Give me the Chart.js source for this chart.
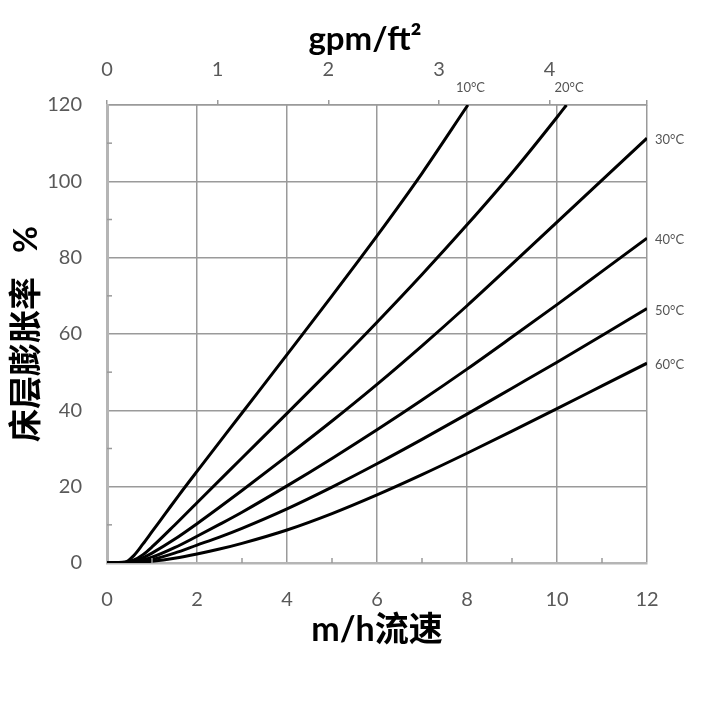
<!DOCTYPE html>
<html>
<head>
<meta charset="utf-8">
<script src="https://cdn.jsdelivr.net/npm/chart.js@4"></script>
<style>
  html, body { margin: 0; padding: 0; background: #ffffff; }
  #wrap { width: 720px; height: 720px; position: relative; }
</style>
</head>
<body>
<div id="wrap"><canvas id="c" width="720" height="720"></canvas></div>
<script>
// ---- data ----
const seriesLabels = ['10°C', '20°C', '30°C', '40°C', '50°C', '60°C'];

const x10 = [0, 0.4, 0.6, 0.8, 1.0, 1.3, 1.6, 2, 3, 4, 5, 6, 7, 8.02];
const y10 = [0, 0.2, 2.0, 5.0, 8.2, 13.0, 17.8, 24.0, 39.3, 54.6, 70.0, 85.7, 102.1, 120];

const x20 = [0, 0.4, 0.6, 0.8, 1.0, 1.5, 2, 3, 4, 5, 6, 7, 8, 9, 10, 10.21];
const y20 = [0, 0.1, 0.8, 2.2, 4.2, 9.9, 15.8, 27.5, 39.2, 51.0, 63.1, 75.6, 88.6, 102.2, 116.8, 120];

const xStd = [0, 0.5, 0.8, 1, 1.5, 2, 2.5, 3, 4, 5, 6, 7, 8, 9, 10, 11, 12];
const y30 = [0, 0.3, 1.4, 2.6, 6.2, 10.3, 14.6, 19.0, 28.0, 37.2, 46.8, 56.9, 67.4, 78.3, 89.3, 100.3, 111.3];
const y40 = [0, 0.2, 0.8, 1.5, 4.0, 7.0, 10.1, 13.3, 20.2, 27.4, 34.9, 42.7, 50.8, 59.2, 67.7, 76.4, 85.1];
const y50 = [0, 0.1, 0.45, 0.9, 2.6, 4.7, 6.8, 9.1, 14.2, 19.9, 26.0, 32.4, 39.0, 45.8, 52.6, 59.6, 66.7];
const y60 = [0, 0.05, 0.25, 0.45, 1.25, 2.35, 3.65, 5.15, 8.65, 12.95, 17.85, 23.15, 28.75, 34.55, 40.45, 46.4, 52.35];

const xTickLabels = ['0', '2', '4', '6', '8', '10', '12'];
const yTickLabels = ['0', '20', '40', '60', '80', '100', '120'];
const gpmTickLabels = ['0', '1', '2', '3', '4'];
const gpmMax = 4.88; // 12 m/h expressed in gpm/ft²

const xsAll = [x10, x20, xStd, xStd, xStd, xStd];
const ysAll = [y10, y20, y30, y40, y50, y60];

const datasets = seriesLabels.map((lab, i) => ({
  label: lab,
  data: xsAll[i].map((x, j) => ({ x: x, y: ysAll[i][j] })),
  borderColor: '#000000',
  borderWidth: 3,
  pointRadius: 0,
  showLine: true,
  fill: false,
  cubicInterpolationMode: 'monotone'
}));

const tickColor = '#595959';
const gridColor = '#9a9a9a';

// minor tick marks + series labels
const extrasPlugin = {
  id: 'extras',
  afterDatasetsDraw(chart) {
    const ctx = chart.ctx;
    const xs = chart.scales.x, ys = chart.scales.y;
    const area = chart.chartArea;
    ctx.save();
    ctx.strokeStyle = gridColor;
    ctx.lineWidth = 1.5;
    for (let v = 10; v < 120; v += 20) {
      const py = ys.getPixelForValue(v);
      ctx.beginPath(); ctx.moveTo(area.left, py); ctx.lineTo(area.left + 5, py); ctx.stroke();
    }
    for (let v = 1; v < 12; v += 2) {
      const px = xs.getPixelForValue(v);
      ctx.beginPath(); ctx.moveTo(px, area.bottom); ctx.lineTo(px, area.bottom - 5); ctx.stroke();
    }
    // series labels at line ends
    ctx.fillStyle = '#555555';
    ctx.font = '13px Lato, "Liberation Sans", sans-serif';
    ctx.textAlign = 'left';
    ctx.textBaseline = 'middle';
    chart.data.datasets.forEach((ds) => {
      const last = ds.data[ds.data.length - 1];
      const px = xs.getPixelForValue(last.x);
      const py = ys.getPixelForValue(last.y);
      if (last.y >= 119) {
        ctx.fillText(ds.label, px - 12, py - 17);
      } else {
        ctx.fillText(ds.label, px + 8, py + 2);
      }
    });
    ctx.restore();
  }
};

const tickFont = { family: 'Lato, "Liberation Sans", sans-serif', size: 20 };
const titleFontFamily = 'Lato, "Noto Sans CJK SC", sans-serif';

new Chart(document.getElementById('c'), {
  type: 'scatter',
  data: { datasets: datasets },
  plugins: [extrasPlugin],
  options: {
    responsive: false,
    animation: false,
    devicePixelRatio: 1,
    layout: { padding: { left: 0, right: 73, top: 0, bottom: 0 } },
    plugins: { legend: { display: false }, tooltip: { enabled: false } },
    scales: {
      x: {
        type: 'linear', position: 'bottom', min: 0, max: 12,
        afterFit(s) { s.height = 157; },
        ticks: {
          stepSize: 1, padding: 25, color: tickColor, font: tickFont, maxRotation: 0,
          autoSkip: false,
          callback: (v) => (v % 2 === 0 ? xTickLabels[v / 2] : '')
        },
        grid: {
          drawTicks: false, lineWidth: 1.5,
          color: (c) => (c.tick && c.tick.value % 2 === 0 ? gridColor : 'rgba(0,0,0,0)')
        },
        border: { display: true, color: '#b5b5b5', width: 2.5 },
        title: {
          display: true, text: 'm/h流速', color: '#000000',
          font: { family: titleFontFamily, size: 34, weight: 'bold' },
          padding: { top: 0, bottom: 70 }
        }
      },
      x2: {
        type: 'linear', position: 'top', min: 0, max: gpmMax,
        afterFit(s) { s.height = 105; },
        ticks: {
          stepSize: 1, padding: 18, color: tickColor, font: tickFont, maxRotation: 0,
          autoSkip: false,
          callback: (v) => (Number.isInteger(v) && v <= 4 ? gpmTickLabels[v] : '')
        },
        grid: { drawOnChartArea: false, drawTicks: true, tickLength: 5, color: gridColor, lineWidth: 1.5 },
        border: { display: true, color: gridColor, width: 1.5 },
        title: {
          display: true, text: 'gpm/ft²   ', color: '#000000',
          font: { family: titleFontFamily, size: 33, weight: 'bold' },
          padding: { top: 20, bottom: 0 }
        }
      },
      y: {
        type: 'linear', position: 'left', min: 0, max: 120,
        afterFit(s) { s.width = 107; },
        ticks: {
          stepSize: 10, padding: 25, color: tickColor, font: tickFont, autoSkip: false,
          callback: (v) => (v % 20 === 0 ? yTickLabels[v / 20] : '')
        },
        grid: {
          drawTicks: false, lineWidth: 1.5,
          color: (c) => (c.tick && c.tick.value % 20 === 0 ? gridColor : 'rgba(0,0,0,0)')
        },
        border: { display: true, color: '#b5b5b5', width: 3 },
        title: {
          display: true, text: '床层膨胀率   %', color: '#000000',
          font: { family: titleFontFamily, size: 33, weight: 'bold' },
          padding: { top: 7, bottom: 0 }
        }
      }
    }
  }
});
</script>
</body>
</html>
